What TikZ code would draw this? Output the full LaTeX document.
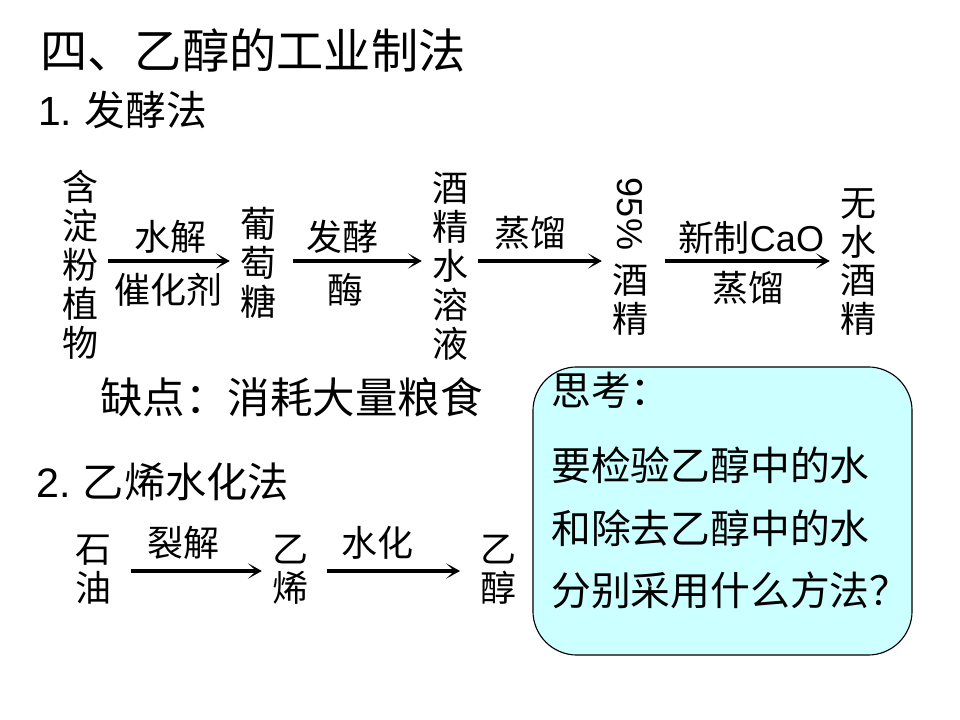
\documentclass[tikz,border=0pt]{standalone}
\usepackage{fontspec}
\setmainfont{Noto Sans CJK SC}
\newfontfamily\latin{Liberation Sans}
\usetikzlibrary{arrows.meta,positioning,calc}
\definecolor{thinkcyan}{HTML}{CCFFFF}

\begin{document}
\begin{tikzpicture}[
    x=0.025cm, y=-0.025cm,
    stack/.style={font=\fontsize{25.6}{27.7}\selectfont, align=center, inner xsep=7pt, inner ysep=0pt},
    lbl/.style={font=\fontsize{25.6}{27.7}\selectfont, inner sep=0pt},
    head/.style={anchor=west, inner sep=0pt, font=\fontsize{#1}{#1}\selectfont},
    arr/.style={-{Stealth[length=10pt, width=11pt, inset=6pt]}, line width=2.2pt},
    thinkbox/.style={draw, line width=0.8pt, fill=thinkcyan, rounded corners=1.1cm,
        minimum width=9.475cm, minimum height=7.2cm, inner sep=0pt},
    qline/.style={anchor=west, inner sep=0pt, font=\fontsize{28.3}{28.3}\selectfont}
]
\useasboundingbox (0,0) rectangle (960,720);

% Headings
\node[head=33.6] (title) at (40,50) {四、乙醇的工业制法};
\node[head=29] (m1) at (38,110) {{\latin 1.} 发酵法};
\node[head=30.2] (flaw) at (100,397) {缺点：消耗大量粮食};
\node[head=29.3] (m2) at (36,482) {{\latin 2.} 乙烯水化法};

% Fermentation route
\coordinate (row1) at (0,261);
\node[stack] (starch) at (80,265) {含\\淀\\粉\\植\\物};
\node[stack] (glucose) at (258,263) {葡\\萄\\糖};
\node[stack] (solution) at (450,266) {酒\\精\\水\\溶\\液};
\node[lbl, rotate=-90, font=\latin\fontsize{25.6}{27.7}\selectfont] (pct) at (630,214) {95\%};
\node[stack] (ethanol95) at (630,300) {酒\\精};
\node[stack] (anhydrous) at (858,262) {无\\水\\酒\\精};

\node[lbl] (hydro) at (170,237) {水解};
\node[lbl] (cat) at (168,290) {催化剂};
\node[lbl] (ferment) at (342,237) {发酵};
\node[lbl] (enzyme) at (345,290) {酶};
\node[lbl] (distil) at (530,233) {蒸馏};
\node[lbl] (cao) at (751,238) {新制{\latin CaO}};
\node[lbl] (distil2) at (748,288) {蒸馏};

\draw[arr] (starch.east |- row1) -- (glucose.west |- row1);
\draw[arr, shorten <=5pt] (glucose.east |- row1) -- (solution.west |- row1);
\draw[arr] (solution.east |- row1) -- (ethanol95.west |- row1);
\draw[arr, shorten <=5pt] (ethanol95.east |- row1) -- (anhydrous.west |- row1);

% Hydration route
\coordinate (row2) at (0,571);
\node[stack] (oil) at (93,570) {石\\油};
\node[stack] (ethylene) at (290,570) {乙\\烯};
\node[stack] (ethanol) at (498,570) {乙\\醇};
\node[lbl] (crack) at (183,543) {裂解};
\node[lbl] (hydrate) at (377,543) {水化};
\draw[arr, shorten <=7pt] (oil.east |- row2) -- (ethylene.west |- row2);
\draw[arr, shorten <=6pt, shorten >=7pt] (ethylene.east |- row2) -- (ethanol.west |- row2);

% Question box
\node[thinkbox] (think) at (722.5,511) {};
\node[qline] (q0) at (551,390) {思考：};
\node[qline] (q1) at (551,465) {要检验乙醇中的水};
\node[qline] (q2) at (551,528) {和除去乙醇中的水};
\node[qline] (q3) at (551,590) {分别采用什么方法？};

\end{tikzpicture}
\end{document}
